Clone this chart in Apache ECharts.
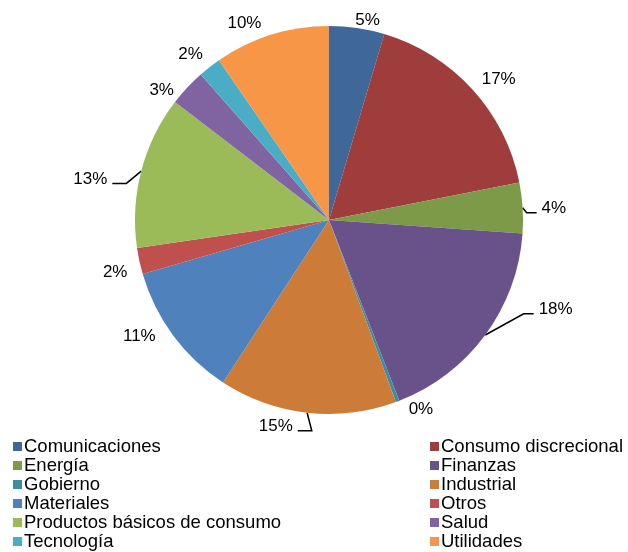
<!DOCTYPE html>
<html>
<head>
<meta charset="utf-8">
<script src="https://cdn.jsdelivr.net/npm/echarts@6/dist/echarts.min.js"></script>
<style>
  html, body { margin: 0; padding: 0; background: #fff; }
  #chart { width: 628px; height: 552px; }
</style>
</head>
<body>
<div id="chart"></div>
<script>
let sectors = [
  "Comunicaciones",
  "Consumo discrecional",
  "Energía",
  "Finanzas",
  "Gobierno",
  "Industrial",
  "Materiales",
  "Otros",
  "Productos básicos de consumo",
  "Salud",
  "Tecnología",
  "Utilidades",
];
let shares = [4.6, 17.3, 4.2, 18.0, 0.3, 14.8, 11.3, 2.2, 12.7, 3.1, 1.9, 9.6];
let colors = [
  "#3f6797", "#9e3d3b", "#7d9a48", "#69518a", "#3d8da0", "#cd7b38",
  "#4f81bd", "#c0504d", "#9bbb59", "#8064a2", "#4bacc6", "#f79646",
];

// label nudges (like excel's "best fit"), len2 = leader line tail when there is one
let labelFix = {
  "Comunicaciones": { dx: -10, dy: -5 },
  "Consumo discrecional": { dx: -1, dy: -8 },
  "Energía": { dx: 8, dy: 1, len2: 10 },
  "Finanzas": { dx: 43, dy: -27, len2: 10 },
  "Gobierno": { dx: 2, dy: 5 },
  "Industrial": { dx: -6, dy: 11, len2: 14 },
  "Materiales": { dx: -7, dy: -1 },
  "Otros": { dx: -1, dy: 11 },
  "Productos básicos de consumo": { dx: -23, dy: 9, len2: 14 },
  "Salud": { dx: -3, dy: 5 },
  "Tecnología": { dx: 3, dy: -10 },
  "Utilidades": { dx: -1, dy: -9 },
};

let leftCol = sectors.filter((s, i) => i % 2 == 0);
let rightCol = sectors.filter((s, i) => i % 2 == 1);

let myChart = echarts.init(document.getElementById("chart"));
let cx = 329;

let legendBase = {
  orient: "vertical",
  top: 432,
  height: 130,
  itemWidth: 9,
  itemHeight: 9,
  itemGap: 0,
  icon: "rect",
  textStyle: { fontFamily: "Liberation Sans", fontSize: 18.5, color: "#000", lineHeight: 19, padding: [0, 0, 0, -3] },
};

let data = sectors.map((s, i) => {
  return {
    name: s,
    value: shares[i],
    itemStyle: { color: colors[i] },
    labelLine: { show: labelFix[s].len2 != undefined },
  };
});

let option = {
  animation: false,
  legend: [
    Object.assign({}, legendBase, { left: 8, data: leftCol }),
    Object.assign({}, legendBase, { left: 425, data: rightCol }),
  ],
  series: [
    {
      type: "pie",
      center: [cx, 220],
      radius: 194,
      startAngle: 90,
      clockwise: true,
      avoidLabelOverlap: false,
      label: {
        position: "outside",
        formatter: (p) => Math.round(p.percent) + "%",
        fontFamily: "Liberation Sans",
        fontSize: 17,
        color: "#000",
      },
      labelLine: {
        length: 3,
        length2: 3,
        lineStyle: { color: "#000", width: 1.5 },
      },
      labelLayout: function (params) {
        let fix = labelFix[sectors[params.dataIndex]];
        let out = { dx: fix.dx, dy: fix.dy };
        if (fix.len2 != undefined && params.labelLinePoints) {
          let r = params.labelRect;
          let x = r.x + fix.dx;
          let y = r.y + fix.dy + r.height / 2 + 4;
          let onRight = x + r.width / 2 > cx;
          let p2 = onRight ? [x - 5, y] : [x + r.width + 5, y];
          let p1 = [p2[0] + (onRight ? -fix.len2 : fix.len2), y];
          out.labelLinePoints = [params.labelLinePoints[0], p1, p2];
        }
        return out;
      },
      data: data,
    },
  ],
};

option && myChart.setOption(option);
</script>
</body>
</html>
